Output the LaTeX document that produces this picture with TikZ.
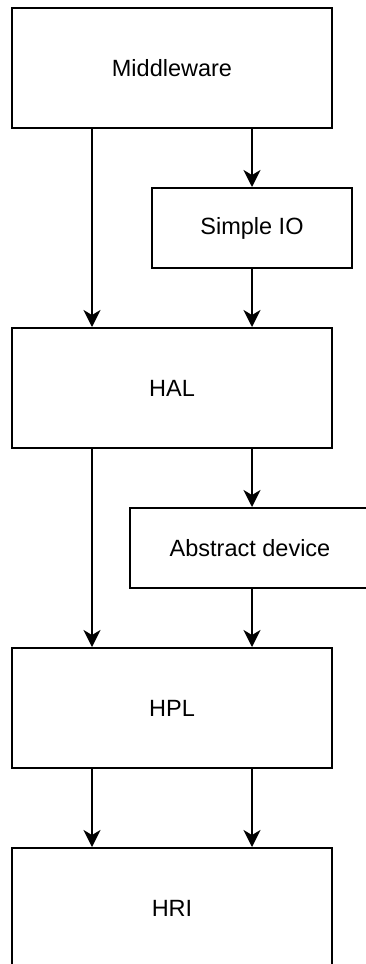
\documentclass[tikz,border=0pt]{standalone}
\usepackage{fontspec}
\setmainfont{Liberation Sans}
\usetikzlibrary{arrows.meta}
\begin{document}
\begin{tikzpicture}[x=1pt,y=-1pt,
  box/.style={draw=black,line width=2pt,fill=white,inner sep=0pt,font=\fontsize{23.5pt}{28pt}\selectfont},
  arr/.style={draw=black,line width=2pt,-{Stealth[length=17pt,width=17pt,inset=5pt]}}]
\useasboundingbox (0,0) rectangle (365,964);
\fill[white] (0,0) rectangle (365,964);
\coordinate (L) at (92,0);
\coordinate (R) at (252,0);
\node[box,minimum width=320pt,minimum height=120pt] (mw) at (172,68) {Middleware};
\node[box,minimum width=200pt,minimum height=80pt] (sio) at (252,228) {Simple IO};
\node[box,minimum width=320pt,minimum height=120pt] (hal) at (172,388) {HAL};
\node[box,minimum width=240pt,minimum height=80pt] (abs) at (250,548) {Abstract device};
\node[box,minimum width=320pt,minimum height=120pt] (hpl) at (172,708) {HPL};
\node[box,minimum width=320pt,minimum height=120pt] (hri) at (172,908) {HRI};
\draw[arr] (mw.south -| L) -- (hal.north -| L);
\draw[arr] (mw.south -| R) -- (sio.north -| R);
\draw[arr] (sio.south -| R) -- (hal.north -| R);
\draw[arr] (hal.south -| L) -- (hpl.north -| L);
\draw[arr] (hal.south -| R) -- (abs.north -| R);
\draw[arr] (abs.south -| R) -- (hpl.north -| R);
\draw[arr] (hpl.south -| L) -- (hri.north -| L);
\draw[arr] (hpl.south -| R) -- (hri.north -| R);
\end{tikzpicture}
\end{document}
